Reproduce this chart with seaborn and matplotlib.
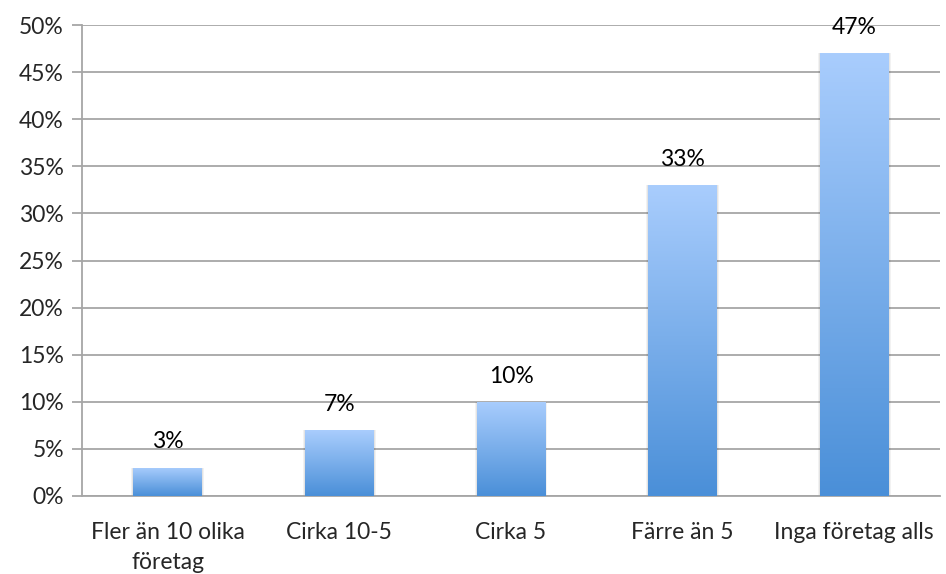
import matplotlib
matplotlib.use("Agg")
import matplotlib.pyplot as plt
import numpy as np
import pandas as pd
import seaborn as sns
from matplotlib.colors import LinearSegmentedColormap
from matplotlib.ticker import FuncFormatter

categories = ["Fler än 10 olika\nföretag", "Cirka 10-5", "Cirka 5", "Färre än 5", "Inga företag alls"]
values = [3, 7, 10, 33, 47]
labels = ["3%", "7%", "10%", "33%", "47%"]

df = pd.DataFrame({"category": categories, "value": values})

sns.set_style("white")
plt.rcParams["font.family"] = ["Lato", "DejaVu Sans"]

fig = plt.figure(figsize=(9.46, 5.74), dpi=100)
ax = fig.add_axes([0.0867, 0.1359, 0.907, 0.8205])

sns.barplot(data=df, x="category", y="value", color="#6ea6e8", width=0.4, ax=ax, zorder=3)

# vertical gradient inside each bar
grad = LinearSegmentedColormap.from_list("bar", ["#4a8fd8", "#a9cdfd"])
g = np.linspace(0, 1, 256).reshape(-1, 1)
for p in ax.patches:
    x0, y0 = p.get_x(), p.get_y()
    w, h = p.get_width(), p.get_height()
    # soft shadow around bar
    for k, a in [(0.012, 0.05), (0.006, 0.06)]:
        ax.add_patch(plt.Rectangle((x0 - k, y0), w + 2 * k, h, color="#000000",
                                   alpha=a, zorder=2, lw=0))
    im = ax.imshow(g, cmap=grad, origin="lower", aspect="auto",
                   extent=(x0, x0 + w, y0, y0 + h), zorder=4)
    im.set_clip_path(p)
    p.set_alpha(0)

for i, v in enumerate(values):
    ax.annotate(labels[i], (i, v), xytext=(0, 11), textcoords="offset points",
                ha="center", va="bottom", fontsize=16.5, color="#000000", zorder=5)

ax.set_xlim(-0.5, 4.5)
ax.set_ylim(0, 50)
ax.set_yticks(range(0, 51, 5))
ax.yaxis.set_major_formatter(FuncFormatter(lambda y, _: f"{int(y)}%"))
ax.yaxis.grid(True, color="#a6a6a6", linewidth=1.3, zorder=1)
ax.set_axisbelow(True)

ax.set_xticks(range(len(categories)))
ax.set_xticks(np.arange(-0.5, 5, 1), minor=True)
ax.tick_params(axis="x", which="major", length=0, pad=19, labelsize=16.5)
ax.tick_params(axis="x", which="minor", length=7, width=1.3, color="#a6a6a6", direction="out")
ax.tick_params(axis="y", length=7, width=1.3, color="#a6a6a6", direction="out", labelsize=16.5, pad=6)
ax.tick_params(left=True, bottom=True)
for t in ax.get_xticklabels():
    t.set_linespacing(1.5)

ax.set_xlabel("")
ax.set_ylabel("")
for s in ["top", "right"]:
    ax.spines[s].set_visible(False)
for s in ["left", "bottom"]:
    ax.spines[s].set_color("#a6a6a6")
    ax.spines[s].set_linewidth(1.3)

fig.savefig("out.png", dpi=100)
